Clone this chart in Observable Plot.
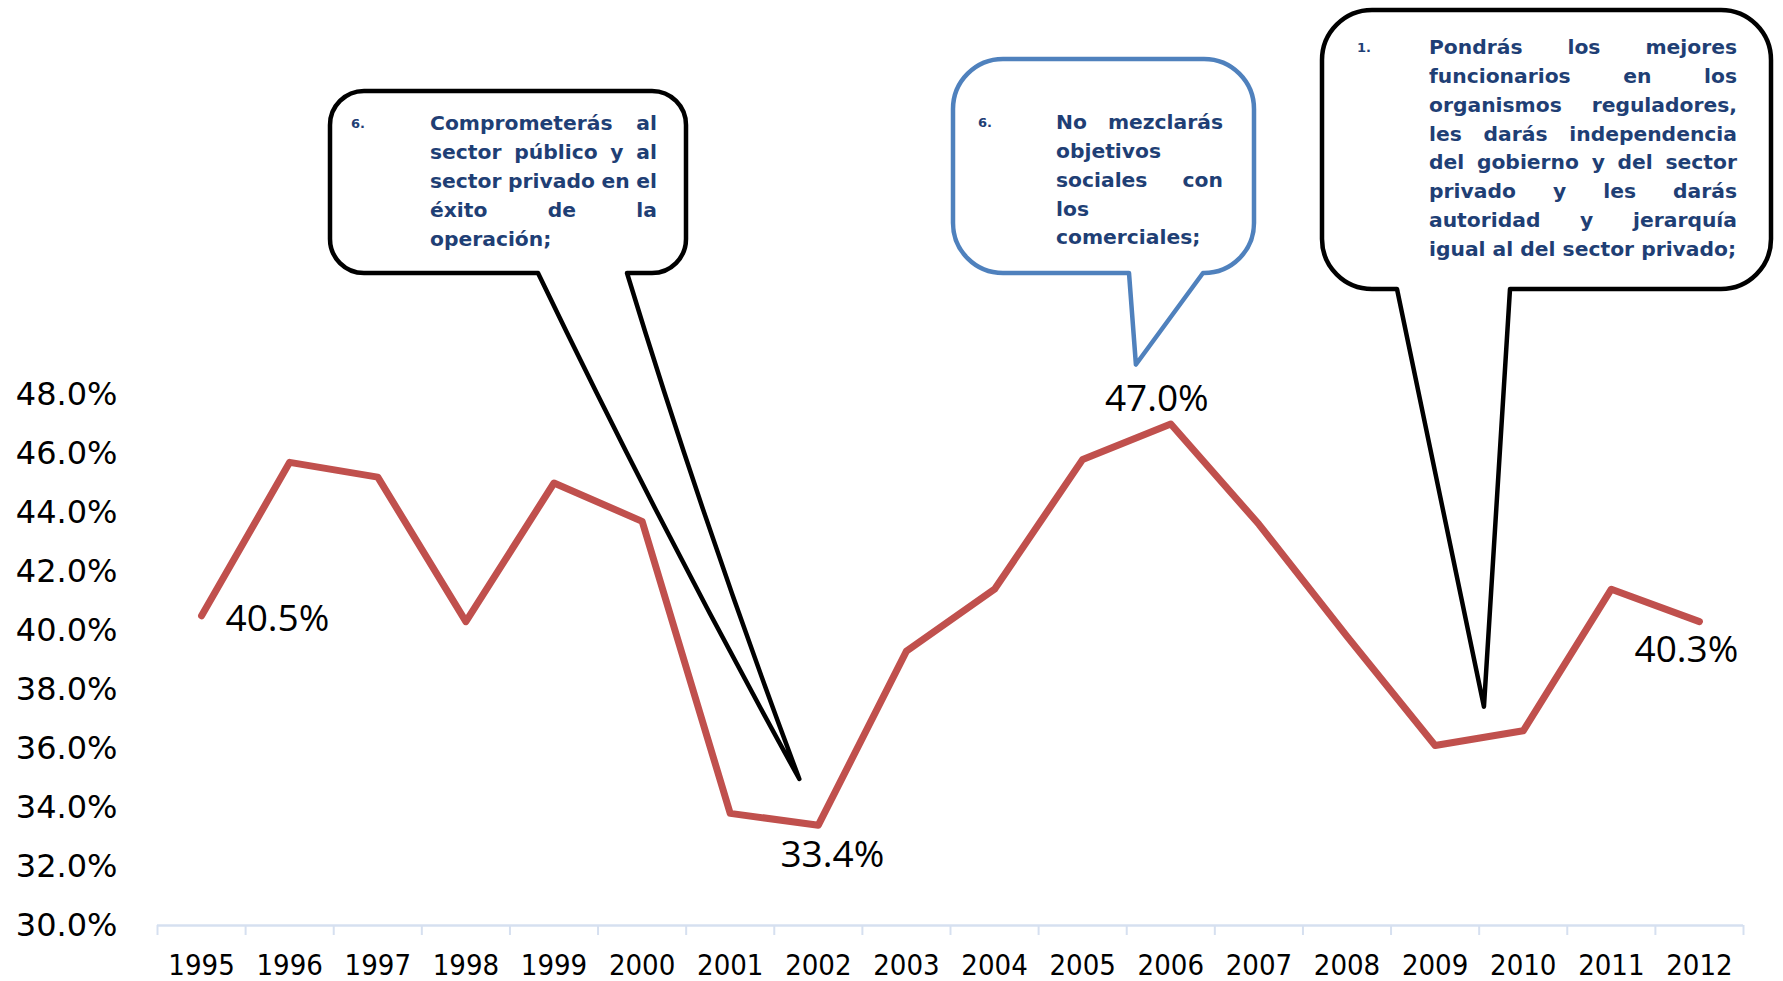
<!DOCTYPE html>
<html>
<head>
<meta charset="utf-8">
<script src="https://cdn.jsdelivr.net/npm/d3@7"></script>
<script src="https://cdn.jsdelivr.net/npm/@observablehq/plot@0.6"></script>
<style>
  html, body { margin: 0; padding: 0; background: #fff; }
  #chart svg { display: block; }
</style>
</head>
<body>
<div id="chart"></div>
<script>
// ---- data ----
const years = [1995, 1996, 1997, 1998, 1999, 2000, 2001, 2002, 2003, 2004, 2005, 2006, 2007, 2008, 2009, 2010, 2011, 2012];
const values = [40.5, 45.7, 45.2, 40.3, 45.0, 43.7, 33.8, 33.4, 39.3, 41.4, 45.8, 47.0, 43.6, 39.8, 36.1, 36.6, 41.4, 40.3];
const yTicks = [30, 32, 34, 36, 38, 40, 42, 44, 46, 48];
const labelRight = [1995];
const labelBelowRight = [2002];
const labelBelowLeft = [2012];
const labelAbove = [2006];

const callout1Lines = ["Comprometerás al", "sector público y al", "sector privado en el", "éxito de la", "operación;"];
const callout2Lines = ["No mezclarás", "objetivos", "sociales con", "los", "comerciales;"];
const callout3Lines = ["Pondrás los mejores", "funcionarios en los", "organismos reguladores,", "les darás independencia", "del gobierno y del sector", "privado y les darás", "autoridad y jerarquía", "igual al del sector privado;"];
const calloutNumbers = ["6.", "6.", "1."];
// tip of each callout, in data units (year, percent)
const calloutTipYears = [2001.79, 2005.61, 2009.56];
const calloutTipValues = [34.95, 49.0, 37.4];

const rows = years.map((year, i) => ({year, value: values[i]}));
const fmt = v => v.toFixed(1) + "%";

// ---- callout layout (pixels) ----
const calloutLayout = [
  {box: {x0: 330, y0: 91, x1: 686, y1: 273, r: 34}, tail: [538, 627], bend: -9, stroke: "#000000",
   numX: 358, textLeft: 430, textRight: 657, textY0: 123, step: 29},
  {box: {x0: 953, y0: 59, x1: 1254, y1: 273, r: 50}, tail: [1129, 1203], bend: 0, stroke: "#4F81BD",
   numX: 985, textLeft: 1056, textRight: 1223, textY0: 122, step: 28.8},
  {box: {x0: 1322, y0: 10, x1: 1771, y1: 289, r: 50}, tail: [1397, 1510], bend: 0, stroke: "#000000",
   numX: 1364, textLeft: 1429, textRight: 1737, textY0: 47, step: 28.8}
];
const calloutLines = [callout1Lines, callout2Lines, callout3Lines];
const boxFont = 20.3;
const boxFontFamily = "'DejaVu Sans', sans-serif";
const textColor = "#1F3F75";

function callouts(index, scales) {
  const g = d3.create("svg:g");
  const ctx = document.createElement("canvas").getContext("2d");
  ctx.font = `bold ${boxFont}px 'DejaVu Sans'`;
  calloutLayout.forEach((c, k) => {
    const tx = scales.x(calloutTipYears[k]);
    const ty = scales.y(calloutTipValues[k]);
    const {x0, y0, x1, y1, r} = c.box;
    const [b0, b1] = c.tail;
    let p = `M${x0 + r},${y0} H${x1 - r} A${r},${r} 0 0 1 ${x1},${y0 + r} V${y1 - r} A${r},${r} 0 0 1 ${x1 - r},${y1} H${b1} `;
    if (c.bend) {
      const c1x = (b1 + tx) / 2 + c.bend, c1y = (y1 + ty) / 2;
      const c2x = (b0 + tx) / 2 + c.bend, c2y = (y1 + ty) / 2;
      p += `Q${c1x},${c1y} ${tx},${ty} Q${c2x},${c2y} ${b0},${y1} `;
    } else {
      p += `L${tx},${ty} L${b0},${y1} `;
    }
    p += `H${x0 + r} A${r},${r} 0 0 1 ${x0},${y1 - r} V${y0 + r} A${r},${r} 0 0 1 ${x0 + r},${y0} Z`;
    g.append("path").attr("d", p).attr("fill", "white").attr("stroke", c.stroke)
      .attr("stroke-width", 4.5).attr("stroke-linejoin", "round");

    g.append("text").attr("x", c.numX).attr("y", c.textY0).attr("dy", "0.4em")
      .attr("font-size", 13).attr("font-weight", "bold").attr("font-family", boxFontFamily)
      .attr("fill", textColor).text(calloutNumbers[k]);

    const lines = calloutLines[k];
    lines.forEach((line, i) => {
      const y = c.textY0 + i * c.step;
      const words = line.split(" ");
      const justify = i < lines.length - 1 && words.length > 1;
      const addText = (x, s, anchor) => g.append("text").attr("x", x).attr("y", y).attr("dy", "0.35em")
        .attr("text-anchor", anchor).attr("font-size", boxFont).attr("font-weight", "bold")
        .attr("font-family", boxFontFamily).attr("fill", textColor).text(s);
      if (!justify) {
        addText(c.textLeft, line, "start");
      } else {
        const widths = words.map(w => ctx.measureText(w).width);
        const total = d3.sum(widths);
        const gap = (c.textRight - c.textLeft - total) / (words.length - 1);
        let x = c.textLeft;
        words.forEach((w, j) => {
          if (j === words.length - 1) addText(c.textRight, w, "end");
          else addText(x, w, "start");
          x += widths[j] + gap;
        });
      }
    });
  });
  return g.node();
}

const boundaries = d3.range(years.length + 1).map(i => years[0] - 0.5 + i);
const labelFont = "'Open Sans', sans-serif";
const labelStyle = {x: "year", y: "value", text: d => fmt(d.value), fontSize: 37, fontFamily: labelFont, fill: "black"};

const chart = Plot.plot({
  width: 1783,
  height: 981,
  marginLeft: 157,
  marginRight: 40,
  marginTop: 394,
  marginBottom: 56,
  x: {type: "linear", domain: [years[0] - 0.5, years[years.length - 1] + 0.5]},
  y: {domain: [30, 48]},
  style: {background: "white", color: "black", overflow: "visible"},
  marks: [
    Plot.ruleY([30], {stroke: "#D6E0F0", strokeWidth: 2.5}),
    Plot.axisX(boundaries, {tickSize: 10, stroke: "#D6E0F0", strokeWidth: 2, tickFormat: () => "", label: null}),
    Plot.axisX(years, {tickSize: 0, tickPadding: 29, tickFormat: d => String(d), label: null,
      fontSize: 29, fontFamily: "'Liberation Sans Narrow', 'DejaVu Sans Condensed', sans-serif", fill: "black"}),
    Plot.axisY(yTicks, {tickSize: 0, tickPadding: 40, tickFormat: d => d.toFixed(1) + "%", label: null,
      fontSize: 32, fontFamily: "'DejaVu Sans', sans-serif", fill: "black"}),
    Plot.line(rows, {x: "year", y: "value", stroke: "#C0504D", strokeWidth: 7, strokeLinejoin: "round", strokeLinecap: "round"}),
    Plot.text(rows.filter(d => labelRight.includes(d.year)), {...labelStyle, textAnchor: "start", dx: 24, dy: 3}),
    Plot.text(rows.filter(d => labelBelowRight.includes(d.year)), {...labelStyle, dx: 14, dy: 30}),
    Plot.text(rows.filter(d => labelBelowLeft.includes(d.year)), {...labelStyle, dx: -13, dy: 29}),
    Plot.text(rows.filter(d => labelAbove.includes(d.year)), {...labelStyle, dx: -14, dy: -25}),
    callouts
  ]
});
document.getElementById("chart").appendChild(chart);
</script>
</body>
</html>
